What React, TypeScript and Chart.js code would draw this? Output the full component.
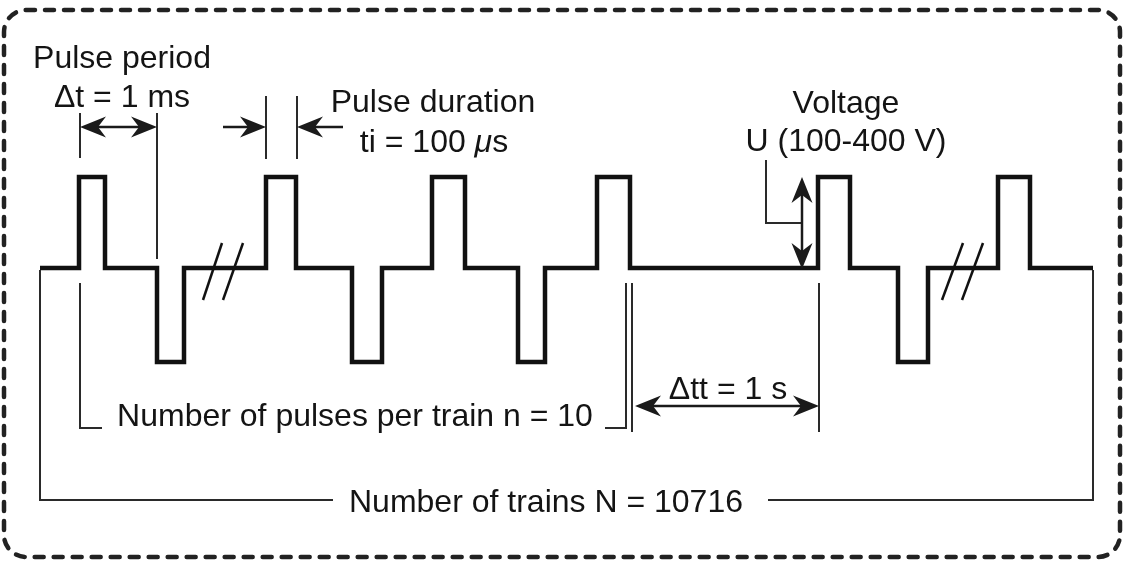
import React, { useEffect, useRef } from "react";
import { Chart, registerables } from "chart.js";

Chart.register(...registerables);

// ---- Data (schematic time units / arbitrary voltage units) ----
// Waveform: time of each level change and the level held after it
const edgeTimes = [4.0, 7.9, 10.5, 15.7, 18.4, 26.6, 29.6, 35.2, 38.2, 43.2, 46.5, 51.8, 54.5, 59.7, 63.0, 81.8, 85.0, 89.8, 92.8, 99.8, 103.0, 109.3];
const edgeLevels = [0, 9.1, 0, -9.4, 0, 9.1, 0, -9.4, 0, 9.1, 0, -9.4, 0, 9.1, 0, 9.1, 0, -9.4, 0, 9.1, 0, 0];

// Annotation texts
const labelTexts = [
  "Pulse period",
  "Δt = 1 ms",
  "Pulse duration",
  "ti = 100 μs",
  "Voltage",
  "U (100-400 V)",
  "Number of pulses per train n = 10",
  "Δtt = 1 s",
  "Number of trains N = 10716",
];

// ---- Layout of annotations (in the same data units) ----
const LABEL_POS: [number, number][] = [
  [12.2, 20.0],
  [12.2, 16.1],
  [43.3, 15.6],
  [43.4, 11.6],
  [84.6, 15.5],
  [84.6, 11.7],
  [35.5, -15.8],
  [72.8, -13.1],
  [54.6, -24.4],
];

const THIN_LINES: [number, number][][] = [
  [[8.0, 15.5], [8.0, 11.0]],
  [[15.7, 15.5], [15.7, 0.9]],
  [[26.6, 17.2], [26.6, 10.9]],
  [[29.7, 17.2], [29.7, 10.9]],
  [[76.6, 10.8], [76.6, 4.5], [80.2, 4.5]],
  [[8.0, -1.5], [8.0, -16.0], [10.2, -16.0]],
  [[60.5, -16.0], [62.6, -16.0], [62.6, -1.5]],
  [[63.2, -1.5], [63.2, -16.4]],
  [[81.9, -1.5], [81.9, -16.4]],
  [[4.0, -0.2], [4.0, -23.2], [33.3, -23.2]],
  [[76.8, -23.2], [109.3, -23.2], [109.3, -0.2]],
];

// arrows: [from, to, double]
const ARROWS: [[number, number], [number, number], boolean][] = [
  [[8.0, 14.1], [15.7, 14.1], true],
  [[22.3, 14.1], [26.6, 14.1], false],
  [[34.3, 14.1], [29.7, 14.1], false],
  [[80.2, 9.1], [80.2, -0.1], true],
  [[63.5, -13.8], [81.9, -13.8], true],
];

const BREAKS: [number, number][][] = [
  [[22.2, 2.5], [20.3, -3.2]],
  [[24.3, 2.5], [22.3, -3.2]],
  [[96.3, 2.5], [94.2, -3.2]],
  [[98.3, 2.5], [96.2, -3.2]],
];

const BORDER = { x0: 0.4, x1: 112.0, y0: 25.8, y1: -28.9, r: 22 };

const FONT_FAMILY = "'Liberation Sans', Arial, Helvetica, sans-serif";
const FONT_SIZE = 32;
const INK = "#141414";

function drawHead(ctx: CanvasRenderingContext2D, tx: number, ty: number, dx: number, dy: number) {
  const L = 26, W = 10.5, N = 8;
  const nx = -dy, ny = dx;
  ctx.beginPath();
  ctx.moveTo(tx, ty);
  ctx.lineTo(tx - dx * L + nx * W, ty - dy * L + ny * W);
  ctx.lineTo(tx - dx * (L - N), ty - dy * (L - N));
  ctx.lineTo(tx - dx * L - nx * W, ty - dy * L - ny * W);
  ctx.closePath();
  ctx.fill();
}

const diagramPlugin = {
  id: "diagram",
  beforeDraw(chart: any) {
    const ctx: CanvasRenderingContext2D = chart.ctx;
    const xs = chart.scales.x, ys = chart.scales.y;
    ctx.save();
    ctx.fillStyle = "#ffffff";
    ctx.fillRect(0, 0, chart.width, chart.height);
    const x0 = xs.getPixelForValue(BORDER.x0), x1 = xs.getPixelForValue(BORDER.x1);
    const y0 = ys.getPixelForValue(BORDER.y0), y1 = ys.getPixelForValue(BORDER.y1);
    ctx.strokeStyle = "#222";
    ctx.lineWidth = 4.5;
    ctx.lineCap = "round";
    ctx.setLineDash([9, 10]);
    ctx.beginPath();
    (ctx as any).roundRect(x0, y0, x1 - x0, y1 - y0, BORDER.r);
    ctx.stroke();
    ctx.restore();
  },
  afterDatasetsDraw(chart: any) {
    const ctx: CanvasRenderingContext2D = chart.ctx;
    const xs = chart.scales.x, ys = chart.scales.y;
    const px = (v: number) => xs.getPixelForValue(v);
    const py = (v: number) => ys.getPixelForValue(v);
    ctx.save();
    // thin lines
    ctx.strokeStyle = "#2a2a2a";
    ctx.lineWidth = 2;
    ctx.lineCap = "butt";
    ctx.lineJoin = "miter";
    for (const pl of THIN_LINES) {
      ctx.beginPath();
      pl.forEach(([x, y], i) => (i === 0 ? ctx.moveTo(px(x), py(y)) : ctx.lineTo(px(x), py(y))));
      ctx.stroke();
    }
    // break marks
    ctx.strokeStyle = "#111";
    ctx.lineWidth = 2.5;
    for (const b of BREAKS) {
      ctx.beginPath();
      ctx.moveTo(px(b[0][0]), py(b[0][1]));
      ctx.lineTo(px(b[1][0]), py(b[1][1]));
      ctx.stroke();
    }
    // arrows
    ctx.strokeStyle = "#1a1a1a";
    ctx.fillStyle = "#1a1a1a";
    ctx.lineWidth = 2.5;
    for (const [a, b, dbl] of ARROWS) {
      const ax = px(a[0]), ay = py(a[1]), bx = px(b[0]), by = py(b[1]);
      const len = Math.hypot(bx - ax, by - ay);
      const dx = (bx - ax) / len, dy = (by - ay) / len;
      ctx.beginPath();
      ctx.moveTo(dbl ? ax + dx * 10 : ax, dbl ? ay + dy * 10 : ay);
      ctx.lineTo(bx - dx * 10, by - dy * 10);
      ctx.stroke();
      drawHead(ctx, bx, by, dx, dy);
      if (dbl) drawHead(ctx, ax, ay, -dx, -dy);
    }
    // labels
    ctx.fillStyle = INK;
    ctx.textBaseline = "alphabetic";
    ctx.textAlign = "left";
    const normal = `${FONT_SIZE}px ${FONT_FAMILY}`;
    const italic = `italic ${FONT_SIZE}px ${FONT_FAMILY}`;
    labelTexts.forEach((t, i) => {
      const [lx, ly] = LABEL_POS[i];
      const cx = px(lx), cy = py(ly);
      const parts = t.split(/(μ)/).filter((s) => s.length > 0);
      let total = 0;
      const widths = parts.map((p) => {
        ctx.font = p === "μ" ? italic : normal;
        const w = ctx.measureText(p).width;
        total += w;
        return w;
      });
      let x = cx - total / 2;
      parts.forEach((p, k) => {
        ctx.font = p === "μ" ? italic : normal;
        ctx.fillText(p, x, cy);
        x += widths[k];
      });
    });
    ctx.restore();
  },
};

export default function App() {
  const ref = useRef<HTMLCanvasElement | null>(null);
  useEffect(() => {
    if (!ref.current) return;
    const points = edgeTimes.map((t, i) => ({ x: t, y: edgeLevels[i] }));
    const chart = new Chart(ref.current, {
      type: "line",
      data: {
        datasets: [
          {
            data: points,
            stepped: "before",
            borderColor: "#111111",
            borderWidth: 4.5,
            borderJoinStyle: "miter",
            borderCapStyle: "butt",
            pointRadius: 0,
            fill: false,
            clip: false as any,
          },
        ],
      },
      options: {
        animation: false,
        responsive: false,
        layout: { padding: 0 },
        plugins: { legend: { display: false }, tooltip: { enabled: false } },
        events: [],
        scales: {
          x: { type: "linear", min: 0, max: 112.4, display: false },
          y: { type: "linear", min: -29.6, max: 26.8, display: false },
        },
      },
      plugins: [diagramPlugin],
    });
    return () => chart.destroy();
  }, []);
  return (
    <div style={{ position: "absolute", left: 0, top: 0, width: 1124, height: 564, background: "#fff" }}>
      <canvas ref={ref} width={1124} height={564} style={{ display: "block" }} />
    </div>
  );
}
